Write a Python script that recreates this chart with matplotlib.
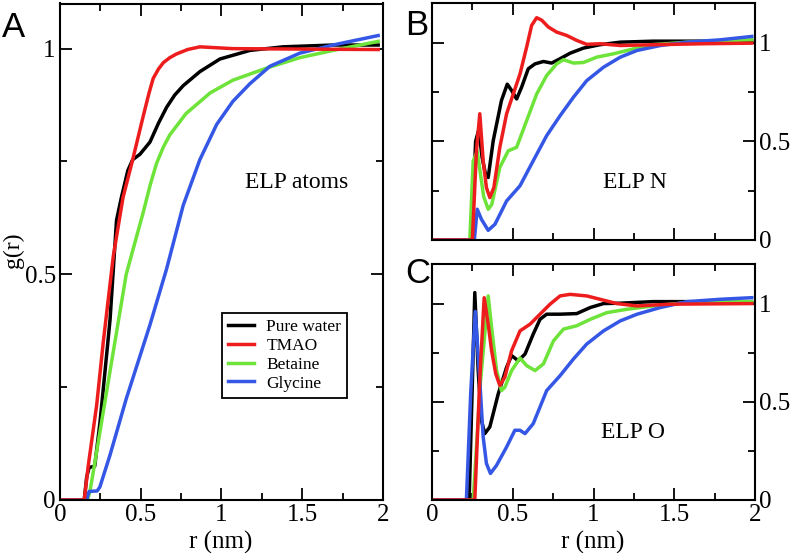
import numpy as np
import matplotlib
matplotlib.use("Agg")
import matplotlib.pyplot as plt
from matplotlib.ticker import MultipleLocator

# Series names and colours (legend order)
names = ["Pure water", "TMAO", "Betaine", "Glycine"]
colors = ["#000000", "#ee1d1d", "#6ee33a", "#3557e6"]

# Panel A: ELP atoms
r_a_water = [0, 0.15, 0.165, 0.18, 0.215, 0.247, 0.28, 0.31, 0.35, 0.38, 0.42, 0.45, 0.495,
             0.557, 0.61, 0.66, 0.71, 0.763, 0.866, 0.99, 1.175, 1.38, 1.69, 1.97]
g_a_water = [0, 0, 0.05, 0.072, 0.075, 0.17, 0.29, 0.40, 0.62, 0.67, 0.73, 0.754, 0.766,
             0.793, 0.835, 0.87, 0.897, 0.918, 0.949, 0.977, 0.996, 1.004, 1.008, 1.008]
r_a_tmao = [0, 0.15, 0.175, 0.227, 0.268, 0.33, 0.39, 0.45, 0.515, 0.55, 0.577, 0.61, 0.64,
            0.68, 0.72, 0.79, 0.866, 1.07, 1.5, 1.97]
g_a_tmao = [0, 0, 0.076, 0.21, 0.35, 0.54, 0.67, 0.754, 0.85, 0.90, 0.934, 0.955, 0.969,
            0.98, 0.988, 0.998, 1.004, 1.0, 0.999, 0.998]
r_a_betaine = [0, 0.17, 0.186, 0.227, 0.31, 0.41, 0.515, 0.56, 0.598, 0.64, 0.68, 0.78,
               0.93, 1.07, 1.28, 1.485, 1.69, 1.97]
g_a_betaine = [0, 0, 0.02, 0.107, 0.286, 0.50, 0.637, 0.70, 0.746, 0.782, 0.809, 0.856,
               0.902, 0.93, 0.957, 0.98, 0.996, 1.016]
r_a_glycine = [0, 0.165, 0.18, 0.23, 0.247, 0.31, 0.41, 0.557, 0.66, 0.763, 0.866, 0.97,
               1.07, 1.175, 1.3, 1.485, 1.69, 1.97]
g_a_glycine = [0, 0, 0.019, 0.02, 0.029, 0.10, 0.224, 0.388, 0.512, 0.653, 0.754, 0.832,
               0.883, 0.922, 0.961, 0.99, 1.008, 1.029]

# Panel B: ELP N
r_b_water = [0, 0.245, 0.27, 0.29, 0.31, 0.33, 0.348, 0.379, 0.43, 0.466, 0.493, 0.524, 0.555,
             0.596, 0.638, 0.69, 0.741, 0.793, 0.855, 0.938, 1.04, 1.166, 1.37, 1.68, 1.98]
g_b_water = [0, 0, 0.50, 0.56, 0.42, 0.34, 0.317, 0.503, 0.707, 0.79, 0.758, 0.715, 0.775,
             0.868, 0.893, 0.905, 0.897, 0.919, 0.947, 0.973, 0.99, 1.003, 1.008, 1.008, 1.008]
r_b_tmao = [0, 0.25, 0.275, 0.296, 0.317, 0.337, 0.358, 0.383, 0.42, 0.462, 0.503, 0.545,
            0.586, 0.617, 0.648, 0.68, 0.72, 0.772, 0.834, 0.896, 0.958, 1.04, 1.166, 1.37,
            1.68, 1.98]
g_b_tmao = [0, 0, 0.45, 0.64, 0.40, 0.266, 0.215, 0.266, 0.47, 0.64, 0.74, 0.842, 0.978,
            1.088, 1.127, 1.114, 1.08, 1.054, 1.037, 1.012, 0.992, 0.995, 0.986, 0.99, 0.995,
            0.998]
r_b_betaine = [0, 0.234, 0.255, 0.28, 0.32, 0.348, 0.37, 0.42, 0.472, 0.524, 0.586, 0.648,
               0.71, 0.772, 0.814, 0.876, 0.938, 1.02, 1.124, 1.248, 1.37, 1.58, 1.98]
g_b_betaine = [0, 0, 0.40, 0.45, 0.22, 0.156, 0.18, 0.368, 0.452, 0.47, 0.605, 0.74, 0.834,
               0.893, 0.914, 0.897, 0.90, 0.927, 0.944, 0.969, 0.99, 1.003, 1.015]
r_b_glycine = [0, 0.262, 0.28, 0.306, 0.348, 0.39, 0.462, 0.545, 0.627, 0.71, 0.793, 0.876,
               0.958, 1.062, 1.166, 1.27, 1.414, 1.58, 1.787, 1.98]
g_b_glycine = [0, 0, 0.156, 0.105, 0.049, 0.08, 0.198, 0.275, 0.402, 0.529, 0.63, 0.724,
               0.808, 0.876, 0.927, 0.961, 0.986, 1.003, 1.015, 1.032]

# Panel C: ELP O
r_c_water = [0, 0.23, 0.25, 0.265, 0.286, 0.306, 0.327, 0.358, 0.41, 0.462, 0.493, 0.534,
             0.576, 0.627, 0.669, 0.71, 0.793, 0.896, 0.98, 1.062, 1.166, 1.37, 1.58, 1.98]
g_c_water = [0, 0, 0.6, 1.056, 0.659, 0.405, 0.338, 0.372, 0.54, 0.676, 0.735, 0.709,
             0.743, 0.845, 0.92, 0.946, 0.946, 0.949, 0.98, 1.0, 1.002, 1.01, 1.01, 1.005]
r_c_tmao = [0, 0.265, 0.295, 0.323, 0.348, 0.369, 0.395, 0.42, 0.451, 0.493, 0.545, 0.607,
            0.669, 0.731, 0.793, 0.855, 0.958, 1.04, 1.145, 1.27, 1.476, 1.98]
g_c_tmao = [0, 0, 0.6, 1.03, 0.895, 0.76, 0.642, 0.583, 0.625, 0.76, 0.861, 0.895, 0.946,
            0.997, 1.039, 1.047, 1.039, 1.022, 1.0, 0.988, 0.997, 1.0]
r_c_betaine = [0, 0.255, 0.30, 0.348, 0.369, 0.40, 0.43, 0.451, 0.493, 0.545, 0.586, 0.638,
               0.69, 0.752, 0.814, 0.896, 0.98, 1.083, 1.207, 1.37, 1.58, 1.98]
g_c_betaine = [0, 0, 0.6, 1.039, 0.878, 0.659, 0.557, 0.574, 0.659, 0.723, 0.684, 0.659,
               0.693, 0.81, 0.87, 0.887, 0.92, 0.954, 0.971, 0.988, 1.005, 1.01]
r_c_glycine = [0, 0.213, 0.24, 0.268, 0.292, 0.317, 0.337, 0.362, 0.40, 0.462, 0.513, 0.545,
               0.576, 0.627, 0.71, 0.793, 0.876, 0.958, 1.062, 1.166, 1.27, 1.414, 1.58,
               1.787, 1.98]
g_c_glycine = [0, 0, 0.55, 0.96, 0.659, 0.32, 0.186, 0.135, 0.177, 0.27, 0.355, 0.355,
               0.338, 0.389, 0.557, 0.633, 0.718, 0.794, 0.861, 0.912, 0.946, 0.98, 1.01,
               1.022, 1.03]

panels = {
    "A": [(r_a_water, g_a_water), (r_a_tmao, g_a_tmao), (r_a_betaine, g_a_betaine), (r_a_glycine, g_a_glycine)],
    "B": [(r_b_water, g_b_water), (r_b_tmao, g_b_tmao), (r_b_betaine, g_b_betaine), (r_b_glycine, g_b_glycine)],
    "C": [(r_c_water, g_c_water), (r_c_tmao, g_c_tmao), (r_c_betaine, g_c_betaine), (r_c_glycine, g_c_glycine)],
}
draw_order = [0, 2, 3, 1]

plt.rcParams["font.family"] = "Liberation Serif"
W, H = 793, 553
fig = plt.figure(figsize=(W / 100, H / 100), dpi=100)


def box(l, t, r, b):
    return [l / W, 1 - b / H, (r - l) / W, (b - t) / H]


ax_a = fig.add_axes(box(60, 3.5, 383, 500))
ax_b = fig.add_axes(box(432, 3.3, 755, 240))
ax_c = fig.add_axes(box(432, 264.3, 755, 500))


def style(ax, ymax, left_labels, bottom_labels):
    ax.set_xlim(0, 2)
    ax.set_ylim(0, ymax)
    ax.xaxis.set_major_locator(MultipleLocator(0.5))
    ax.xaxis.set_minor_locator(MultipleLocator(0.25))
    ax.yaxis.set_major_locator(MultipleLocator(0.5))
    ax.yaxis.set_minor_locator(MultipleLocator(0.25))
    ax.xaxis.set_major_formatter(lambda v, p: f"{v:g}")
    ax.yaxis.set_major_formatter(lambda v, p: f"{v:g}")
    ax.tick_params(which="both", direction="in", top=True, bottom=True, left=True, right=True,
                   width=1.3, labelsize=18, pad=3,
                   labelleft=left_labels, labelright=not left_labels,
                   labelbottom=bottom_labels)
    ax.tick_params(which="major", length=8.6)
    ax.tick_params(which="minor", length=4.7)
    for s in ax.spines.values():
        s.set_linewidth(1.5)


style(ax_a, 1.1, True, True)
style(ax_b, 1.2, False, False)
style(ax_c, 1.2, False, True)

for ax, key in [(ax_a, "A"), (ax_b, "B"), (ax_c, "C")]:
    for i in draw_order:
        r, g = panels[key][i]
        ax.plot(r, g, color=colors[i], lw=2.5, label=names[i], solid_joinstyle="round")

# axis titles
fig.text(221 / W, 1 - 542 / H, "r (nm)", fontsize=18, ha="center", va="center")
fig.text(593 / W, 1 - 542 / H, "r (nm)", fontsize=18, ha="center", va="center")
fig.text(13 / W, 1 - 250 / H, "g(r)", rotation=90, fontsize=17, ha="center", va="center")

fig.text(297 / W, 1 - 183 / H, "ELP atoms", fontsize=17, ha="center", va="center")
fig.text(635 / W, 1 - 183 / H, "ELP N", fontsize=17, ha="center", va="center")
fig.text(633 / W, 1 - 432 / H, "ELP O", fontsize=17, ha="center", va="center")

for lab, x, y in [("A", 2, 37), ("B", 405, 35), ("C", 405, 283)]:
    fig.text(x / W, 1 - y / H, lab, fontsize=25, family="Liberation Sans",
             ha="left", va="baseline")

handles, labels = ax_a.get_legend_handles_labels()
order = [labels.index(n) for n in names]
leg = ax_a.legend([handles[k] for k in order], names, loc="upper left",
                  bbox_to_anchor=(222 / W, 1 - 313 / H), bbox_transform=fig.transFigure,
                  fontsize=12.5, frameon=True, fancybox=False, framealpha=1,
                  edgecolor="black", borderaxespad=0, borderpad=0.35,
                  handlelength=1.5, handletextpad=0.7, labelspacing=0.15)
leg.get_frame().set_linewidth(1.3)

fig.savefig("out.png", dpi=100)
